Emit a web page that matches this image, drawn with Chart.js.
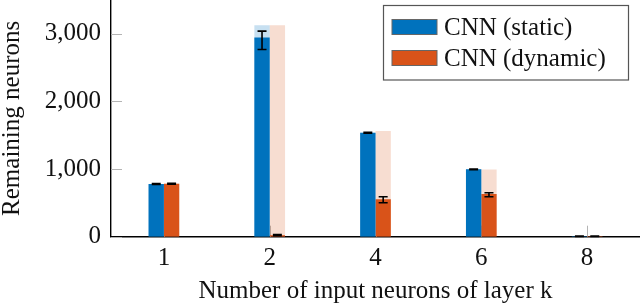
<!DOCTYPE html>
<html>
<head>
<meta charset="utf-8">
<script src="https://cdn.jsdelivr.net/npm/chart.js@4.4.1/dist/chart.umd.min.js"></script>
<style>
  html, body { margin: 0; padding: 0; background: #fff; }
  #wrap { width: 640px; height: 307px; position: relative; }
</style>
</head>
<body>
<div id="wrap"><canvas id="chart"></canvas></div>
<script>
// data
const categories = ["1", "2", "4", "6", "8"];
const staticValues = [780, 2947, 1537, 996, 5];
const dynamicValues = [782, 22, 553, 631, 5];
// light bars behind (upper reference level)
const staticTotals = [780, 3128, 1537, 996, 5];
const dynamicTotals = [782, 3128, 1562, 995, 5];
// error bars (above / below the value)
const staticErrPlus = [6, 93, 8, 5, 3];
const staticErrMinus = [6, 178, 8, 5, 3];
const dynamicErrPlus = [6, 8, 38, 19, 3];
const dynamicErrMinus = [6, 8, 51, 40, 3];
const yTicks = [0, 1000, 2000, 3000];

const BLUE = "#0072BD";
const ORANGE = "#D95319";
const FONT = "'Liberation Serif', 'Times New Roman', serif";

const errors = [
  { plus: staticErrPlus, minus: staticErrMinus },
  { plus: dynamicErrPlus, minus: dynamicErrMinus },
];

// pgfplots-like inward tick marks
const innerTicks = {
  id: "innerTicks",
  beforeDatasetsDraw(chart) {
    const { ctx, chartArea, scales } = chart;
    ctx.save();
    ctx.strokeStyle = "#b4b4b4";
    ctx.lineWidth = 1;
    yTicks.forEach((v) => {
      const y = Math.round(scales.y.getPixelForValue(v)) + 0.5;
      ctx.beginPath();
      ctx.moveTo(chartArea.left, y);
      ctx.lineTo(chartArea.left + 11, y);
      ctx.stroke();
    });
    categories.forEach((c, i) => {
      const x = Math.round(scales.x.getPixelForValue(i)) + 0.5;
      ctx.beginPath();
      ctx.moveTo(x, chartArea.bottom);
      ctx.lineTo(x, chartArea.bottom - 11);
      ctx.stroke();
    });
    ctx.restore();
  },
};

const errorBars = {
  id: "errorBars",
  afterDatasetsDraw(chart) {
    const { ctx, scales } = chart;
    ctx.save();
    ctx.strokeStyle = "#000";
    ctx.lineWidth = 1.6;
    errors.forEach((err, di) => {
      const meta = chart.getDatasetMeta(di);
      const values = chart.data.datasets[di].data;
      meta.data.forEach((bar, i) => {
        const hi = scales.y.getPixelForValue(values[i] + err.plus[i]);
        const lo = scales.y.getPixelForValue(Math.max(0, values[i] - err.minus[i]));
        const x = bar.x;
        ctx.beginPath();
        ctx.moveTo(x, hi);
        ctx.lineTo(x, lo);
        ctx.moveTo(x - 4.5, hi);
        ctx.lineTo(x + 4.5, hi);
        ctx.moveTo(x - 4.5, lo);
        ctx.lineTo(x + 4.5, lo);
        ctx.stroke();
      });
    });
    ctx.restore();
  },
};

const boxLegend = {
  id: "boxLegend",
  afterDraw(chart) {
    const { ctx } = chart;
    ctx.save();
    ctx.fillStyle = "#fff";
    ctx.fillRect(383.5, 5.5, 245, 74.5);
    ctx.strokeStyle = "#555";
    ctx.lineWidth = 1.2;
    ctx.strokeRect(383.5, 5.5, 245, 74.5);
    ctx.font = "25px " + FONT;
    ctx.textBaseline = "alphabetic";
    ctx.textAlign = "left";
    [0, 1].forEach((di, row) => {
      const ds = chart.data.datasets[di];
      const top = 19.5 + row * 31;
      ctx.fillStyle = ds.backgroundColor;
      ctx.fillRect(392, top, 45, 15);
      ctx.strokeStyle = "#666";
      ctx.lineWidth = 1;
      ctx.strokeRect(392, top, 45, 15);
      ctx.fillStyle = "#111";
      ctx.fillText(ds.label, 444, top + 15);
    });
    ctx.restore();
  },
};

new Chart(document.getElementById("chart"), {
  type: "bar",
  data: {
    labels: categories,
    datasets: [
      { label: "CNN (static)", data: staticValues, backgroundColor: BLUE, stack: "static" },
      { label: "CNN (dynamic)", data: dynamicValues, backgroundColor: ORANGE, stack: "dynamic" },
      { label: "static total", data: staticTotals, backgroundColor: "rgba(0,114,189,0.22)", stack: "static" },
      { label: "dynamic total", data: dynamicTotals, backgroundColor: "rgba(217,83,25,0.2)", stack: "dynamic" },
    ],
  },
  options: {
    responsive: true,
    maintainAspectRatio: false,
    animation: false,
    layout: { padding: 0 },
    categoryPercentage: 0.29,
    barPercentage: 1.0,
    plugins: {
      legend: { display: false },
      tooltip: { enabled: false },
    },
    scales: {
      x: {
        grid: { display: false, drawTicks: false },
        border: { display: true, color: "#000", width: 1.4 },
        ticks: { color: "#111", padding: 7, font: { family: FONT, size: 25 } },
        title: {
          display: true,
          text: "Number of input neurons of layer k",
          color: "#111",
          font: { family: FONT, size: 25, lineHeight: 1 },
          padding: { top: 0, bottom: 3 },
        },
        afterFit(scale) {
          scale.height = 70.3;
          scale.paddingLeft = 0;
          scale.paddingRight = 0;
        },
      },
      y: {
        stacked: false,
        min: 0,
        max: 3500,
        grid: { display: false, drawTicks: false },
        border: { display: true, color: "#000", width: 1.4 },
        afterBuildTicks(scale) {
          scale.ticks = yTicks.map((v) => ({ value: v }));
        },
        ticks: {
          color: "#111",
          padding: 10,
          font: { family: FONT, size: 25 },
          callback: (v) => Number(v).toLocaleString("en-US"),
        },
        title: {
          display: true,
          text: "Remaining neurons",
          color: "#111",
          font: { family: FONT, size: 25, lineHeight: 1 },
          padding: { top: 0, bottom: 0 },
        },
        afterFit(scale) {
          scale.width = 111;
          scale.paddingTop = 0;
          scale.paddingBottom = 0;
        },
      },
    },
  },
  plugins: [innerTicks, errorBars, boxLegend],
});
</script>
</body>
</html>
